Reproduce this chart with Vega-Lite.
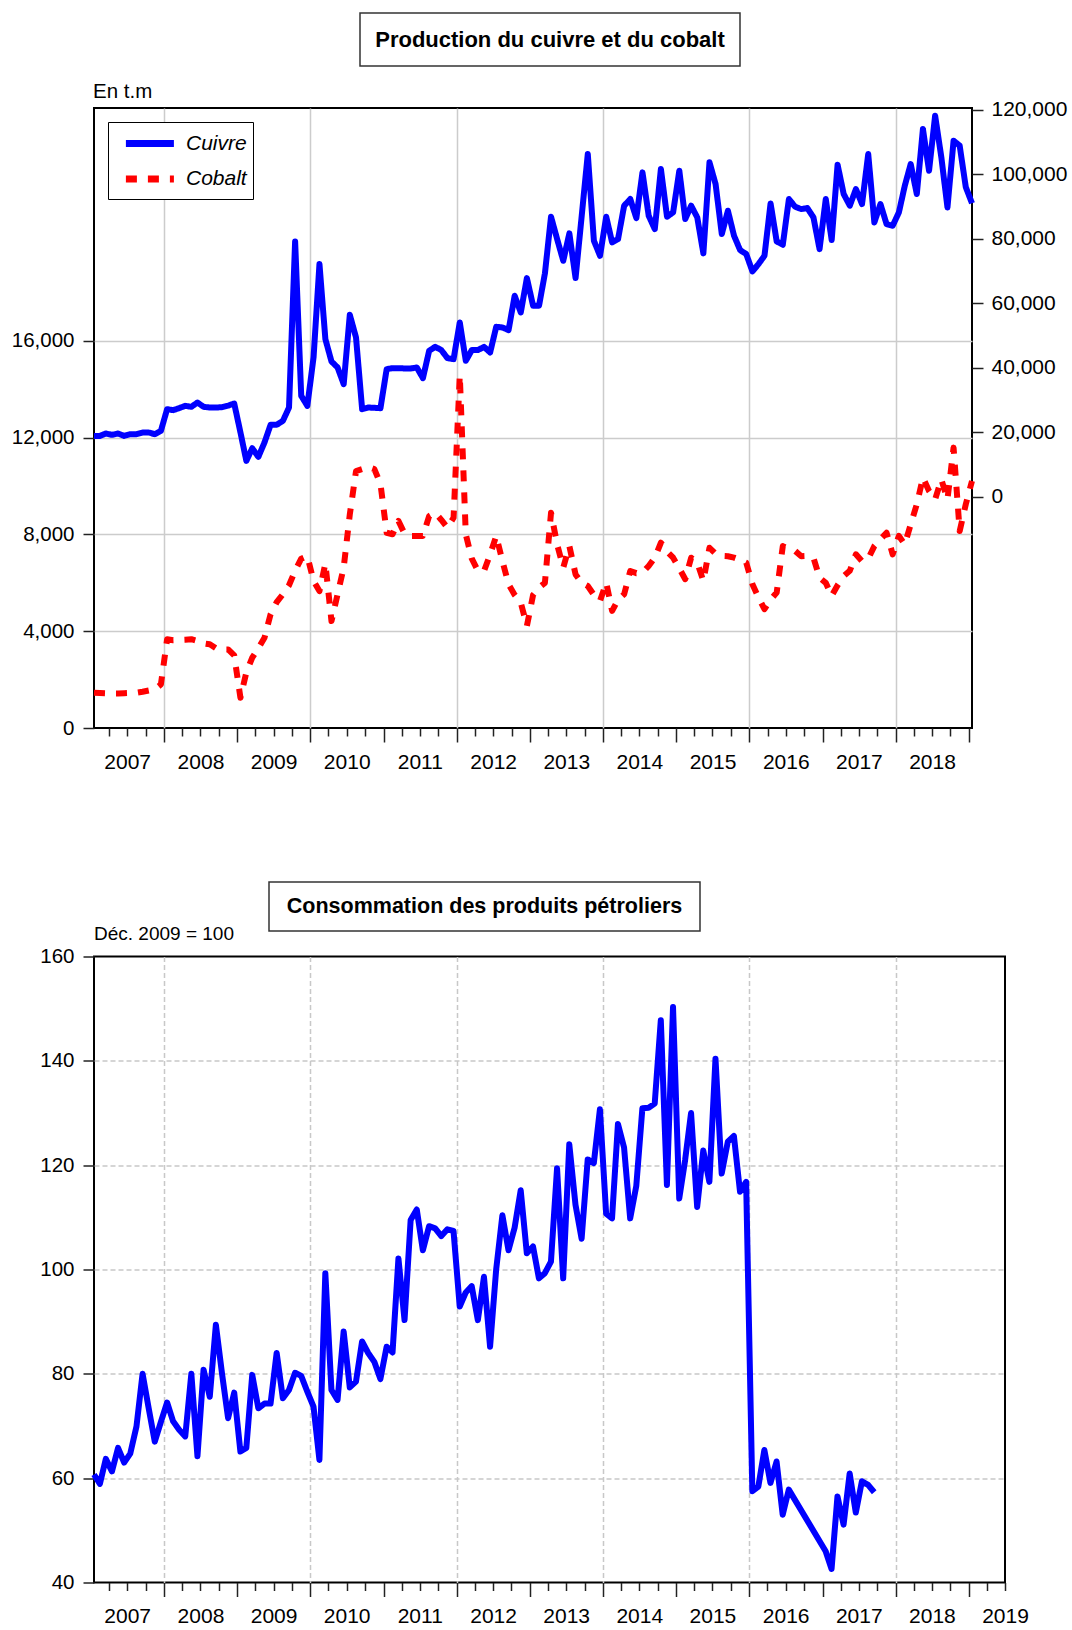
{
  "$schema": "https://vega.github.io/schema/vega-lite/v6.json",
  "padding": {"left": 0, "top": 12, "right": 0, "bottom": 0},
  "background": "white",
  "config": {
    "font": "Liberation Sans, Arial, sans-serif",
    "view": {"stroke": "black", "strokeWidth": 2},
    "axis": {"labelColor": "black", "titleColor": "black", "tickColor": "#222222", "tickWidth": 1.5, "domain": false, "labelFontSize": 21}
  },
  "datasets": {
    "production": [
      {"mois":"2007-01","serie":"Cuivre","valeur":18900},{"mois":"2007-02","serie":"Cuivre","valeur":18900},{"mois":"2007-03","serie":"Cuivre","valeur":19640},{"mois":"2007-04","serie":"Cuivre","valeur":19230},{"mois":"2007-05","serie":"Cuivre","valeur":19640},{"mois":"2007-06","serie":"Cuivre","valeur":18900},{"mois":"2007-07","serie":"Cuivre","valeur":19430},{"mois":"2007-08","serie":"Cuivre","valeur":19430},{"mois":"2007-09","serie":"Cuivre","valeur":19950},{"mois":"2007-10","serie":"Cuivre","valeur":19950},{"mois":"2007-11","serie":"Cuivre","valeur":19430},{"mois":"2007-12","serie":"Cuivre","valeur":20470},
      {"mois":"2008-01","serie":"Cuivre","valeur":27190},{"mois":"2008-02","serie":"Cuivre","valeur":26880},{"mois":"2008-03","serie":"Cuivre","valeur":27500},{"mois":"2008-04","serie":"Cuivre","valeur":28220},{"mois":"2008-05","serie":"Cuivre","valeur":27910},{"mois":"2008-06","serie":"Cuivre","valeur":29250},{"mois":"2008-07","serie":"Cuivre","valeur":27910},{"mois":"2008-08","serie":"Cuivre","valeur":27700},{"mois":"2008-09","serie":"Cuivre","valeur":27700},{"mois":"2008-10","serie":"Cuivre","valeur":27800},{"mois":"2008-11","serie":"Cuivre","valeur":28300},{"mois":"2008-12","serie":"Cuivre","valeur":28940},
      {"mois":"2009-01","serie":"Cuivre","valeur":20000},{"mois":"2009-02","serie":"Cuivre","valeur":11160},{"mois":"2009-03","serie":"Cuivre","valeur":15090},{"mois":"2009-04","serie":"Cuivre","valeur":12400},{"mois":"2009-05","serie":"Cuivre","valeur":16850},{"mois":"2009-06","serie":"Cuivre","valeur":22330},{"mois":"2009-07","serie":"Cuivre","valeur":22330},{"mois":"2009-08","serie":"Cuivre","valeur":23570},{"mois":"2009-09","serie":"Cuivre","valeur":27700},{"mois":"2009-10","serie":"Cuivre","valeur":79180},{"mois":"2009-11","serie":"Cuivre","valeur":31320},{"mois":"2009-12","serie":"Cuivre","valeur":28220},
      {"mois":"2010-01","serie":"Cuivre","valeur":43210},{"mois":"2010-02","serie":"Cuivre","valeur":72150},{"mois":"2010-03","serie":"Cuivre","valeur":48900},{"mois":"2010-04","serie":"Cuivre","valeur":41970},{"mois":"2010-05","serie":"Cuivre","valeur":40110},{"mois":"2010-06","serie":"Cuivre","valeur":34940},{"mois":"2010-07","serie":"Cuivre","valeur":56440},{"mois":"2010-08","serie":"Cuivre","valeur":49410},{"mois":"2010-09","serie":"Cuivre","valeur":27190},{"mois":"2010-10","serie":"Cuivre","valeur":27700},{"mois":"2010-11","serie":"Cuivre","valeur":27600},{"mois":"2010-12","serie":"Cuivre","valeur":27500},
      {"mois":"2011-01","serie":"Cuivre","valeur":39590},{"mois":"2011-02","serie":"Cuivre","valeur":39900},{"mois":"2011-03","serie":"Cuivre","valeur":39900},{"mois":"2011-04","serie":"Cuivre","valeur":39800},{"mois":"2011-05","serie":"Cuivre","valeur":39800},{"mois":"2011-06","serie":"Cuivre","valeur":40110},{"mois":"2011-07","serie":"Cuivre","valeur":36800},{"mois":"2011-08","serie":"Cuivre","valeur":45270},{"mois":"2011-09","serie":"Cuivre","valeur":46520},{"mois":"2011-10","serie":"Cuivre","valeur":45480},{"mois":"2011-11","serie":"Cuivre","valeur":43000},{"mois":"2011-12","serie":"Cuivre","valeur":42690},
      {"mois":"2012-01","serie":"Cuivre","valeur":54060},{"mois":"2012-02","serie":"Cuivre","valeur":42170},{"mois":"2012-03","serie":"Cuivre","valeur":45500},{"mois":"2012-04","serie":"Cuivre","valeur":45500},{"mois":"2012-05","serie":"Cuivre","valeur":46500},{"mois":"2012-06","serie":"Cuivre","valeur":44760},{"mois":"2012-07","serie":"Cuivre","valeur":52720},{"mois":"2012-08","serie":"Cuivre","valeur":52510},{"mois":"2012-09","serie":"Cuivre","valeur":51680},{"mois":"2012-10","serie":"Cuivre","valeur":62330},{"mois":"2012-11","serie":"Cuivre","valeur":57160},{"mois":"2012-12","serie":"Cuivre","valeur":67810},
      {"mois":"2013-01","serie":"Cuivre","valeur":59230},{"mois":"2013-02","serie":"Cuivre","valeur":59230},{"mois":"2013-03","serie":"Cuivre","valeur":69260},{"mois":"2013-04","serie":"Cuivre","valeur":86830},{"mois":"2013-05","serie":"Cuivre","valeur":79900},{"mois":"2013-06","serie":"Cuivre","valeur":73180},{"mois":"2013-07","serie":"Cuivre","valeur":81660},{"mois":"2013-08","serie":"Cuivre","valeur":67810},{"mois":"2013-09","serie":"Cuivre","valeur":87000},{"mois":"2013-10","serie":"Cuivre","valeur":106260},{"mois":"2013-11","serie":"Cuivre","valeur":79390},{"mois":"2013-12","serie":"Cuivre","valeur":74730},
      {"mois":"2014-01","serie":"Cuivre","valeur":86830},{"mois":"2014-02","serie":"Cuivre","valeur":78870},{"mois":"2014-03","serie":"Cuivre","valeur":79900},{"mois":"2014-04","serie":"Cuivre","valeur":90240},{"mois":"2014-05","serie":"Cuivre","valeur":92310},{"mois":"2014-06","serie":"Cuivre","valeur":86420},{"mois":"2014-07","serie":"Cuivre","valeur":100580},{"mois":"2014-08","serie":"Cuivre","valeur":87140},{"mois":"2014-09","serie":"Cuivre","valeur":83000},{"mois":"2014-10","serie":"Cuivre","valeur":101610},{"mois":"2014-11","serie":"Cuivre","valeur":86830},{"mois":"2014-12","serie":"Cuivre","valeur":88170},
      {"mois":"2015-01","serie":"Cuivre","valeur":101100},{"mois":"2015-02","serie":"Cuivre","valeur":86110},{"mois":"2015-03","serie":"Cuivre","valeur":90240},{"mois":"2015-04","serie":"Cuivre","valeur":86620},{"mois":"2015-05","serie":"Cuivre","valeur":75460},{"mois":"2015-06","serie":"Cuivre","valeur":103680},{"mois":"2015-07","serie":"Cuivre","valeur":96960},{"mois":"2015-08","serie":"Cuivre","valeur":81450},{"mois":"2015-09","serie":"Cuivre","valeur":88690},{"mois":"2015-10","serie":"Cuivre","valeur":80940},{"mois":"2015-11","serie":"Cuivre","valeur":76490},{"mois":"2015-12","serie":"Cuivre","valeur":75250},
      {"mois":"2016-01","serie":"Cuivre","valeur":69880},{"mois":"2016-02","serie":"Cuivre","valeur":72150},{"mois":"2016-03","serie":"Cuivre","valeur":74730},{"mois":"2016-04","serie":"Cuivre","valeur":90960},{"mois":"2016-05","serie":"Cuivre","valeur":79180},{"mois":"2016-06","serie":"Cuivre","valeur":78150},{"mois":"2016-07","serie":"Cuivre","valeur":92310},{"mois":"2016-08","serie":"Cuivre","valeur":89930},{"mois":"2016-09","serie":"Cuivre","valeur":89210},{"mois":"2016-10","serie":"Cuivre","valeur":89520},{"mois":"2016-11","serie":"Cuivre","valeur":86620},{"mois":"2016-12","serie":"Cuivre","valeur":76800},
      {"mois":"2017-01","serie":"Cuivre","valeur":92310},{"mois":"2017-02","serie":"Cuivre","valeur":79590},{"mois":"2017-03","serie":"Cuivre","valeur":102950},{"mois":"2017-04","serie":"Cuivre","valeur":93860},{"mois":"2017-05","serie":"Cuivre","valeur":90240},{"mois":"2017-06","serie":"Cuivre","valeur":95410},{"mois":"2017-07","serie":"Cuivre","valeur":90760},{"mois":"2017-08","serie":"Cuivre","valeur":106260},{"mois":"2017-09","serie":"Cuivre","valeur":85070},{"mois":"2017-10","serie":"Cuivre","valeur":90760},{"mois":"2017-11","serie":"Cuivre","valeur":84560},{"mois":"2017-12","serie":"Cuivre","valeur":84040},
      {"mois":"2018-01","serie":"Cuivre","valeur":88170},{"mois":"2018-02","serie":"Cuivre","valeur":96440},{"mois":"2018-03","serie":"Cuivre","valeur":103160},{"mois":"2018-04","serie":"Cuivre","valeur":93860},{"mois":"2018-05","serie":"Cuivre","valeur":114010},{"mois":"2018-06","serie":"Cuivre","valeur":101090},{"mois":"2018-07","serie":"Cuivre","valeur":118150},{"mois":"2018-08","serie":"Cuivre","valeur":105230},{"mois":"2018-09","serie":"Cuivre","valeur":89720},{"mois":"2018-10","serie":"Cuivre","valeur":110400},{"mois":"2018-11","serie":"Cuivre","valeur":108850},{"mois":"2018-12","serie":"Cuivre","valeur":96000},
      {"mois":"2019-01","serie":"Cuivre","valeur":91000},
      {"mois":"2007-01","serie":"Cobalt","valeur":1460},{"mois":"2007-02","serie":"Cobalt","valeur":1450},{"mois":"2007-03","serie":"Cobalt","valeur":1440},{"mois":"2007-04","serie":"Cobalt","valeur":1430},{"mois":"2007-05","serie":"Cobalt","valeur":1430},{"mois":"2007-06","serie":"Cobalt","valeur":1440},{"mois":"2007-07","serie":"Cobalt","valeur":1450},{"mois":"2007-08","serie":"Cobalt","valeur":1460},{"mois":"2007-09","serie":"Cobalt","valeur":1500},{"mois":"2007-10","serie":"Cobalt","valeur":1550},{"mois":"2007-11","serie":"Cobalt","valeur":1600},{"mois":"2007-12","serie":"Cobalt","valeur":1800},
      {"mois":"2008-01","serie":"Cobalt","valeur":3670},{"mois":"2008-02","serie":"Cobalt","valeur":3630},{"mois":"2008-03","serie":"Cobalt","valeur":3640},{"mois":"2008-04","serie":"Cobalt","valeur":3650},{"mois":"2008-05","serie":"Cobalt","valeur":3670},{"mois":"2008-06","serie":"Cobalt","valeur":3600},{"mois":"2008-07","serie":"Cobalt","valeur":3500},{"mois":"2008-08","serie":"Cobalt","valeur":3460},{"mois":"2008-09","serie":"Cobalt","valeur":3300},{"mois":"2008-10","serie":"Cobalt","valeur":3250},{"mois":"2008-11","serie":"Cobalt","valeur":3250},{"mois":"2008-12","serie":"Cobalt","valeur":3000},
      {"mois":"2009-01","serie":"Cobalt","valeur":1250},{"mois":"2009-02","serie":"Cobalt","valeur":2300},{"mois":"2009-03","serie":"Cobalt","valeur":2910},{"mois":"2009-04","serie":"Cobalt","valeur":3300},{"mois":"2009-05","serie":"Cobalt","valeur":3730},{"mois":"2009-06","serie":"Cobalt","valeur":4700},{"mois":"2009-07","serie":"Cobalt","valeur":5200},{"mois":"2009-08","serie":"Cobalt","valeur":5530},{"mois":"2009-09","serie":"Cobalt","valeur":5900},{"mois":"2009-10","serie":"Cobalt","valeur":6500},{"mois":"2009-11","serie":"Cobalt","valeur":7000},{"mois":"2009-12","serie":"Cobalt","valeur":7110},
      {"mois":"2010-01","serie":"Cobalt","valeur":6080},{"mois":"2010-02","serie":"Cobalt","valeur":5660},{"mois":"2010-03","serie":"Cobalt","valeur":6800},{"mois":"2010-04","serie":"Cobalt","valeur":4420},{"mois":"2010-05","serie":"Cobalt","valeur":5530},{"mois":"2010-06","serie":"Cobalt","valeur":6630},{"mois":"2010-07","serie":"Cobalt","valeur":8830},{"mois":"2010-08","serie":"Cobalt","valeur":10620},{"mois":"2010-09","serie":"Cobalt","valeur":10700},{"mois":"2010-10","serie":"Cobalt","valeur":10790},{"mois":"2010-11","serie":"Cobalt","valeur":10700},{"mois":"2010-12","serie":"Cobalt","valeur":10100},
      {"mois":"2011-01","serie":"Cobalt","valeur":8070},{"mois":"2011-02","serie":"Cobalt","valeur":8010},{"mois":"2011-03","serie":"Cobalt","valeur":8560},{"mois":"2011-04","serie":"Cobalt","valeur":8030},{"mois":"2011-05","serie":"Cobalt","valeur":7940},{"mois":"2011-06","serie":"Cobalt","valeur":7940},{"mois":"2011-07","serie":"Cobalt","valeur":7940},{"mois":"2011-08","serie":"Cobalt","valeur":8760},{"mois":"2011-09","serie":"Cobalt","valeur":8900},{"mois":"2011-10","serie":"Cobalt","valeur":8600},{"mois":"2011-11","serie":"Cobalt","valeur":8280},{"mois":"2011-12","serie":"Cobalt","valeur":8690},
      {"mois":"2012-01","serie":"Cobalt","valeur":14590},{"mois":"2012-02","serie":"Cobalt","valeur":8000},{"mois":"2012-03","serie":"Cobalt","valeur":7000},{"mois":"2012-04","serie":"Cobalt","valeur":6500},{"mois":"2012-05","serie":"Cobalt","valeur":6490},{"mois":"2012-06","serie":"Cobalt","valeur":7180},{"mois":"2012-07","serie":"Cobalt","valeur":7940},{"mois":"2012-08","serie":"Cobalt","valeur":6900},{"mois":"2012-09","serie":"Cobalt","valeur":5940},{"mois":"2012-10","serie":"Cobalt","valeur":5500},{"mois":"2012-11","serie":"Cobalt","valeur":5180},{"mois":"2012-12","serie":"Cobalt","valeur":4220},
      {"mois":"2013-01","serie":"Cobalt","valeur":5500},{"mois":"2013-02","serie":"Cobalt","valeur":5800},{"mois":"2013-03","serie":"Cobalt","valeur":6000},{"mois":"2013-04","serie":"Cobalt","valeur":8900},{"mois":"2013-05","serie":"Cobalt","valeur":7590},{"mois":"2013-06","serie":"Cobalt","valeur":6630},{"mois":"2013-07","serie":"Cobalt","valeur":7520},{"mois":"2013-08","serie":"Cobalt","valeur":6350},{"mois":"2013-09","serie":"Cobalt","valeur":6000},{"mois":"2013-10","serie":"Cobalt","valeur":5870},{"mois":"2013-11","serie":"Cobalt","valeur":5500},{"mois":"2013-12","serie":"Cobalt","valeur":5250},
      {"mois":"2014-01","serie":"Cobalt","valeur":6010},{"mois":"2014-02","serie":"Cobalt","valeur":4840},{"mois":"2014-03","serie":"Cobalt","valeur":5300},{"mois":"2014-04","serie":"Cobalt","valeur":5530},{"mois":"2014-05","serie":"Cobalt","valeur":6490},{"mois":"2014-06","serie":"Cobalt","valeur":6400},{"mois":"2014-07","serie":"Cobalt","valeur":6420},{"mois":"2014-08","serie":"Cobalt","valeur":6700},{"mois":"2014-09","serie":"Cobalt","valeur":7040},{"mois":"2014-10","serie":"Cobalt","valeur":7660},{"mois":"2014-11","serie":"Cobalt","valeur":7300},{"mois":"2014-12","serie":"Cobalt","valeur":7040},
      {"mois":"2015-01","serie":"Cobalt","valeur":6600},{"mois":"2015-02","serie":"Cobalt","valeur":6150},{"mois":"2015-03","serie":"Cobalt","valeur":7040},{"mois":"2015-04","serie":"Cobalt","valeur":6830},{"mois":"2015-05","serie":"Cobalt","valeur":6080},{"mois":"2015-06","serie":"Cobalt","valeur":7450},{"mois":"2015-07","serie":"Cobalt","valeur":7200},{"mois":"2015-08","serie":"Cobalt","valeur":7110},{"mois":"2015-09","serie":"Cobalt","valeur":7100},{"mois":"2015-10","serie":"Cobalt","valeur":7040},{"mois":"2015-11","serie":"Cobalt","valeur":6950},{"mois":"2015-12","serie":"Cobalt","valeur":6830},
      {"mois":"2016-01","serie":"Cobalt","valeur":5940},{"mois":"2016-02","serie":"Cobalt","valeur":5400},{"mois":"2016-03","serie":"Cobalt","valeur":4910},{"mois":"2016-04","serie":"Cobalt","valeur":5300},{"mois":"2016-05","serie":"Cobalt","valeur":5600},{"mois":"2016-06","serie":"Cobalt","valeur":7520},{"mois":"2016-07","serie":"Cobalt","valeur":7400},{"mois":"2016-08","serie":"Cobalt","valeur":7320},{"mois":"2016-09","serie":"Cobalt","valeur":7100},{"mois":"2016-10","serie":"Cobalt","valeur":7110},{"mois":"2016-11","serie":"Cobalt","valeur":7040},{"mois":"2016-12","serie":"Cobalt","valeur":6210},
      {"mois":"2017-01","serie":"Cobalt","valeur":6000},{"mois":"2017-02","serie":"Cobalt","valeur":5460},{"mois":"2017-03","serie":"Cobalt","valeur":5900},{"mois":"2017-04","serie":"Cobalt","valeur":6280},{"mois":"2017-05","serie":"Cobalt","valeur":6500},{"mois":"2017-06","serie":"Cobalt","valeur":7180},{"mois":"2017-07","serie":"Cobalt","valeur":6900},{"mois":"2017-08","serie":"Cobalt","valeur":7000},{"mois":"2017-09","serie":"Cobalt","valeur":7520},{"mois":"2017-10","serie":"Cobalt","valeur":7800},{"mois":"2017-11","serie":"Cobalt","valeur":8070},{"mois":"2017-12","serie":"Cobalt","valeur":7180},
      {"mois":"2018-01","serie":"Cobalt","valeur":7940},{"mois":"2018-02","serie":"Cobalt","valeur":7590},{"mois":"2018-03","serie":"Cobalt","valeur":8420},{"mois":"2018-04","serie":"Cobalt","valeur":9250},{"mois":"2018-05","serie":"Cobalt","valeur":10350},{"mois":"2018-06","serie":"Cobalt","valeur":9800},{"mois":"2018-07","serie":"Cobalt","valeur":9450},{"mois":"2018-08","serie":"Cobalt","valeur":10280},{"mois":"2018-09","serie":"Cobalt","valeur":9450},{"mois":"2018-10","serie":"Cobalt","valeur":11590},{"mois":"2018-11","serie":"Cobalt","valeur":8140},{"mois":"2018-12","serie":"Cobalt","valeur":9250},
      {"mois":"2019-01","serie":"Cobalt","valeur":10210}
    ],
    "petrole": [
      {"mois":"2007-01","indice":60.7},{"mois":"2007-02","indice":58.9},{"mois":"2007-03","indice":63.7},{"mois":"2007-04","indice":61.3},{"mois":"2007-05","indice":65.8},{"mois":"2007-06","indice":63.0},{"mois":"2007-07","indice":64.7},{"mois":"2007-08","indice":69.9},{"mois":"2007-09","indice":80.0},{"mois":"2007-10","indice":73.4},{"mois":"2007-11","indice":67.0},{"mois":"2007-12","indice":70.8},
      {"mois":"2008-01","indice":74.5},{"mois":"2008-02","indice":70.9},{"mois":"2008-03","indice":69.3},{"mois":"2008-04","indice":68.0},{"mois":"2008-05","indice":80.0},{"mois":"2008-06","indice":64.2},{"mois":"2008-07","indice":80.8},{"mois":"2008-08","indice":75.6},{"mois":"2008-09","indice":89.4},{"mois":"2008-10","indice":80.1},{"mois":"2008-11","indice":71.5},{"mois":"2008-12","indice":76.4},
      {"mois":"2009-01","indice":65.1},{"mois":"2009-02","indice":65.8},{"mois":"2009-03","indice":79.8},{"mois":"2009-04","indice":73.4},{"mois":"2009-05","indice":74.3},{"mois":"2009-06","indice":74.3},{"mois":"2009-07","indice":84.0},{"mois":"2009-08","indice":75.3},{"mois":"2009-09","indice":76.9},{"mois":"2009-10","indice":80.2},{"mois":"2009-11","indice":79.6},{"mois":"2009-12","indice":76.6},
      {"mois":"2010-01","indice":73.7},{"mois":"2010-02","indice":63.5},{"mois":"2010-03","indice":99.3},{"mois":"2010-04","indice":76.9},{"mois":"2010-05","indice":75.0},{"mois":"2010-06","indice":88.1},{"mois":"2010-07","indice":77.4},{"mois":"2010-08","indice":78.5},{"mois":"2010-09","indice":86.2},{"mois":"2010-10","indice":84.0},{"mois":"2010-11","indice":82.3},{"mois":"2010-12","indice":79.0},
      {"mois":"2011-01","indice":85.2},{"mois":"2011-02","indice":84.1},{"mois":"2011-03","indice":102.1},{"mois":"2011-04","indice":90.3},{"mois":"2011-05","indice":109.5},{"mois":"2011-06","indice":111.5},{"mois":"2011-07","indice":103.7},{"mois":"2011-08","indice":108.3},{"mois":"2011-09","indice":107.9},{"mois":"2011-10","indice":106.4},{"mois":"2011-11","indice":107.7},{"mois":"2011-12","indice":107.4},
      {"mois":"2012-01","indice":92.9},{"mois":"2012-02","indice":95.6},{"mois":"2012-03","indice":96.8},{"mois":"2012-04","indice":90.3},{"mois":"2012-05","indice":98.6},{"mois":"2012-06","indice":85.2},{"mois":"2012-07","indice":100.0},{"mois":"2012-08","indice":110.4},{"mois":"2012-09","indice":103.7},{"mois":"2012-10","indice":108.0},{"mois":"2012-11","indice":115.2},{"mois":"2012-12","indice":103.1},
      {"mois":"2013-01","indice":104.4},{"mois":"2013-02","indice":98.3},{"mois":"2013-03","indice":99.3},{"mois":"2013-04","indice":101.5},{"mois":"2013-05","indice":119.4},{"mois":"2013-06","indice":98.3},{"mois":"2013-07","indice":124.0},{"mois":"2013-08","indice":112.4},{"mois":"2013-09","indice":105.9},{"mois":"2013-10","indice":121.1},{"mois":"2013-11","indice":120.4},{"mois":"2013-12","indice":130.7},
      {"mois":"2014-01","indice":110.7},{"mois":"2014-02","indice":109.8},{"mois":"2014-03","indice":127.9},{"mois":"2014-04","indice":123.4},{"mois":"2014-05","indice":109.8},{"mois":"2014-06","indice":116.0},{"mois":"2014-07","indice":130.9},{"mois":"2014-08","indice":131.0},{"mois":"2014-09","indice":131.8},{"mois":"2014-10","indice":147.8},{"mois":"2014-11","indice":116.2},{"mois":"2014-12","indice":150.3},
      {"mois":"2015-01","indice":113.6},{"mois":"2015-02","indice":121.0},{"mois":"2015-03","indice":130.0},{"mois":"2015-04","indice":112.0},{"mois":"2015-05","indice":122.8},{"mois":"2015-06","indice":116.8},{"mois":"2015-07","indice":140.4},{"mois":"2015-08","indice":118.4},{"mois":"2015-09","indice":124.5},{"mois":"2015-10","indice":125.6},{"mois":"2015-11","indice":114.9},{"mois":"2015-12","indice":116.8},
      {"mois":"2016-01","indice":57.5},{"mois":"2016-02","indice":58.4},{"mois":"2016-03","indice":65.4},{"mois":"2016-04","indice":59.1},{"mois":"2016-05","indice":63.2},{"mois":"2016-06","indice":53.0},{"mois":"2016-07","indice":57.8},
      {"mois":"2017-01","indice":46.0},{"mois":"2017-02","indice":42.6},{"mois":"2017-03","indice":56.5},{"mois":"2017-04","indice":51.1},{"mois":"2017-05","indice":60.9},{"mois":"2017-06","indice":53.4},{"mois":"2017-07","indice":59.4},{"mois":"2017-08","indice":58.7},{"mois":"2017-09","indice":57.3}
    ]
  },
  "spacing": 102,
  "resolve": {"scale": {"color": "independent", "strokeDash": "independent"}},
  "vconcat": [
    {
      "spacing": 13,
      "resolve": {"scale": {"color": "independent", "strokeDash": "independent"}},
      "vconcat": [
        {
          "spacing": 0,
          "hconcat": [
            {"width": 265, "height": 53, "view": {"stroke": null}, "data": {"values": [{}]}, "mark": {"type": "text", "text": ""}},
            {"width": 380, "height": 53, "view": {"stroke": "#333333", "strokeWidth": 1.5}, "data": {"values": [{}]},
             "mark": {"type": "text", "text": "Production du cuivre et du cobalt", "fontSize": 22, "fontWeight": "bold", "color": "black"}}
          ]
        },
        {
          "width": 878,
          "height": 620,
          "data": {"name": "production"},
          "encoding": {
            "x": {
              "field": "mois", "type": "temporal", "timeUnit": "utcyearmonth", "bandPosition": 0.5,
              "scale": {"domain": [{"year": 2007, "month": 1, "date": 16, "hours": 12, "utc": true}, {"year": 2019, "month": 1, "date": 16, "hours": 12, "utc": true}]},
              "axis": {
                "title": null,
                "tickCount": {"interval": "month", "step": 3},
                "tickSize": {"condition": {"test": "utcmonth(datum.value) === 0", "value": 14}, "value": 8},
                "grid": true, "gridColor": "#cccccc", "gridWidth": 1.5,
                "gridOpacity": {"condition": {"test": "utcmonth(datum.value) === 0 && utcyear(datum.value) % 2 === 0", "value": 1}, "value": 0},
                "labelExpr": "utcmonth(datum.value) === 6 ? utcFormat(datum.value, '%Y') : ''",
                "labelOverlap": false, "labelFlush": false, "labelPadding": 15, "labelFontSize": 21, "labelBaseline": "top", "labelAlign": "center"
              }
            },
            "color": {
              "field": "serie", "type": "nominal",
              "scale": {"domain": ["Cuivre", "Cobalt"], "range": ["#0000ff", "#ff0000"]},
              "legend": {"title": null, "orient": "top-left", "offset": 14, "strokeColor": "black", "fillColor": "white", "padding": 6, "symbolType": "M-0.3,0H3.7", "symbolSize": 576, "symbolStrokeWidth": 7, "labelFontSize": 21, "labelFontStyle": "italic", "labelOffset": 41, "rowPadding": 5.5, "labelColor": "black", "labelLimit": 300}
            },
            "strokeDash": {
              "field": "serie", "type": "nominal",
              "scale": {"domain": ["Cuivre", "Cobalt"], "range": [[1, 0], [11, 11]]},
              "legend": {"title": null, "orient": "top-left", "offset": 14, "strokeColor": "black", "fillColor": "white", "padding": 6, "symbolType": "M-0.3,0H3.7", "symbolSize": 576, "symbolStrokeWidth": 7, "labelFontSize": 21, "labelFontStyle": "italic", "labelOffset": 41, "rowPadding": 5.5, "labelColor": "black", "labelLimit": 300}
            }
          },
          "layer": [
            {
              "transform": [{"filter": "datum.serie === 'Cuivre'"}],
              "mark": {"type": "line", "strokeWidth": 6, "strokeJoin": "round"},
              "encoding": {
                "y": {
                  "field": "valeur", "type": "quantitative",
                  "scale": {"domain": [-71630, 120530], "nice": false, "zero": false},
                  "axis": {"orient": "right", "values": [0, 20000, 40000, 60000, 80000, 100000, 120000], "format": ",d", "grid": false, "tickSize": 11, "labelPadding": 8, "labelFontSize": 21, "title": null}
                }
              }
            },
            {
              "transform": [{"filter": "datum.serie === 'Cobalt'"}],
              "mark": {"type": "line", "strokeWidth": 6, "strokeJoin": "round"},
              "encoding": {
                "y": {
                  "field": "valeur", "type": "quantitative",
                  "scale": {"domain": [0, 25630], "nice": false, "zero": false},
                  "axis": {"orient": "left", "values": [0, 4000, 8000, 12000, 16000], "format": ",d", "grid": true, "gridColor": "#cccccc", "gridWidth": 1.5,
                           "gridOpacity": {"condition": {"test": "datum.value <= 0", "value": 0}, "value": 1},
                           "tickSize": 11, "labelPadding": 9, "labelFontSize": 20.5, "minExtent": 93, "maxExtent": 93,
                           "title": "En t.m", "titleAngle": 0, "titleAlign": "left", "titleBaseline": "middle", "titleX": -1.5, "titleY": -16.5, "titleFontSize": 20.5, "titleFontWeight": "normal"}
                }
              }
            }
          ],
          "resolve": {"scale": {"y": "independent"}}
        }
      ]
    },
    {
      "spacing": -8.5,
      "vconcat": [
        {
          "spacing": 0,
          "hconcat": [
            {"width": 174, "height": 49, "view": {"stroke": null}, "data": {"values": [{}]}, "mark": {"type": "text", "text": ""}},
            {"width": 431, "height": 49, "view": {"stroke": "#333333", "strokeWidth": 1.5}, "data": {"values": [{}]},
             "mark": {"type": "text", "text": "Consommation des produits pétroliers", "fontSize": 21.5, "fontWeight": "bold", "color": "black"}}
          ]
        },
        {
          "width": 911,
          "height": 626,
          "data": {"name": "petrole"},
          "mark": {"type": "line", "strokeWidth": 6, "strokeJoin": "round", "color": "#0000ff"},
          "encoding": {
            "x": {
              "field": "mois", "type": "temporal", "timeUnit": "utcyearmonth", "bandPosition": 0.5,
              "scale": {"domain": [{"year": 2007, "month": 1, "date": 16, "hours": 12, "utc": true}, {"year": 2019, "month": 7, "date": 1, "utc": true}]},
              "axis": {
                "title": null,
                "tickCount": {"interval": "month", "step": 3},
                "tickSize": {"condition": {"test": "utcmonth(datum.value) === 0", "value": 14}, "value": 8},
                "grid": true, "gridColor": "#c8c8c8", "gridWidth": 1.5, "gridDash": [5, 3],
                "gridOpacity": {"condition": {"test": "utcmonth(datum.value) === 0 && utcyear(datum.value) % 2 === 0", "value": 1}, "value": 0},
                "labelExpr": "utcmonth(datum.value) === 6 ? utcFormat(datum.value, '%Y') : ''",
                "labelOverlap": false, "labelFlush": false, "labelPadding": 15, "labelFontSize": 21, "labelBaseline": "top", "labelAlign": "center"
              }
            },
            "y": {
              "field": "indice", "type": "quantitative",
              "scale": {"domain": [40, 160], "nice": false, "zero": false},
              "axis": {"values": [40, 60, 80, 100, 120, 140, 160], "grid": true, "gridColor": "#c8c8c8", "gridWidth": 1.5, "gridDash": [5, 3],
                       "gridOpacity": {"condition": {"test": "datum.value <= 40 || datum.value >= 160", "value": 0}, "value": 1},
                       "tickSize": 11, "labelPadding": 9, "labelFontSize": 20.5, "minExtent": 93, "maxExtent": 93,
                       "title": "Déc. 2009 = 100", "titleAngle": 0, "titleAlign": "left", "titleBaseline": "middle", "titleX": -0.5, "titleY": -23, "titleFontSize": 19, "titleFontWeight": "normal"}
            }
          }
        }
      ]
    }
  ]
}
